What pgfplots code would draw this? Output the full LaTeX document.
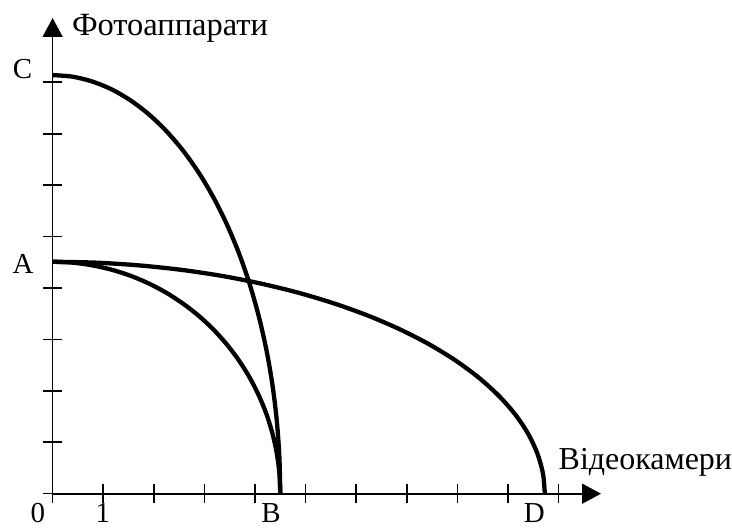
\documentclass[border=0pt]{standalone}
\usepackage{pgfplots}
\pgfplotsset{compat=1.18}
\usetikzlibrary{arrows.meta}
\usepackage{fontspec}
\setmainfont{Liberation Serif}
\begin{document}
\begin{tikzpicture}
\begin{axis}[
  x=50.66pt, y=51.5pt,
  xmin=0, xmax=10.84, ymin=0, ymax=9.25,
  axis lines=left,
  axis line style={line width=1.7pt, black},
  x axis line style={-{Triangle[length=19pt,width=20pt]}},
  y axis line style={-{Triangle[length=19pt,width=20pt]}},
  xtick={0,1,2,3,4,5,6,7,8,9,10},
  ytick={0,1,2,3,4,5,6,7,8},
  xticklabels={}, yticklabels={},
  tick align=center,
  major tick length=19pt,
  every tick/.style={line width=1.6pt, black},
  clip=false,
]
\path (axis cs:-1.04,-0.70) rectangle (axis cs:13.41,9.60);
% A-B
\addplot[black, line width=4.3pt, smooth, no markers] coordinates {(0,4.51) (0.392,4.493) (0.781,4.441) (1.165,4.356) (1.539,4.238) (1.902,4.087) (2.25,3.906) (2.581,3.694) (2.893,3.455) (3.182,3.189) (3.447,2.899) (3.686,2.587) (3.897,2.255) (4.078,1.906) (4.229,1.543) (4.347,1.167) (4.432,0.783) (4.483,0.393) (4.5,0)};
% C-B
\addplot[black, line width=4.3pt, smooth, no markers] coordinates {(0,8.14) (0.392,8.109) (0.781,8.016) (1.165,7.863) (1.539,7.649) (1.902,7.377) (2.25,7.049) (2.581,6.668) (2.893,6.236) (3.182,5.756) (3.447,5.232) (3.686,4.669) (3.897,4.07) (4.078,3.44) (4.229,2.784) (4.347,2.107) (4.432,1.414) (4.483,0.709) (4.5,0)};
% A-D
\addplot[black, line width=4.3pt, smooth, no markers] coordinates {(0,4.51) (0.848,4.493) (1.690,4.441) (2.518,4.356) (3.328,4.238) (4.112,4.087) (4.865,3.906) (5.581,3.694) (6.254,3.455) (6.880,3.189) (7.454,2.899) (7.970,2.587) (8.426,2.255) (8.818,1.906) (9.143,1.543) (9.399,1.167) (9.582,0.783) (9.693,0.393) (9.73,0)};
\node[anchor=base, inner sep=0pt, font=\fontsize{29}{34}\selectfont] at (axis cs:-0.29,-0.56) {0};
\node[anchor=base, inner sep=0pt, font=\fontsize{29}{34}\selectfont] at (axis cs:0.993,-0.56) {1};
\node[anchor=base, inner sep=0pt, font=\fontsize{29}{34}\selectfont] at (axis cs:4.32,-0.56) {B};
\node[anchor=base, inner sep=0pt, font=\fontsize{29}{34}\selectfont] at (axis cs:9.52,-0.56) {D};
\node[anchor=base, inner sep=0pt, font=\fontsize{29}{34}\selectfont] at (axis cs:-0.596,8.08) {C};
\node[anchor=base, inner sep=0pt, font=\fontsize{29}{34}\selectfont] at (axis cs:-0.586,4.28) {A};
\node[anchor=base west, inner sep=0pt, font=\fontsize{32.5}{38}\selectfont] at (axis cs:0.38,8.90) {Фотоаппарати};
\node[anchor=base west, inner sep=0pt, font=\fontsize{32}{38}\selectfont] at (axis cs:10.0,0.476) {Відеокамери};
\end{axis}
\end{tikzpicture}
\end{document}
